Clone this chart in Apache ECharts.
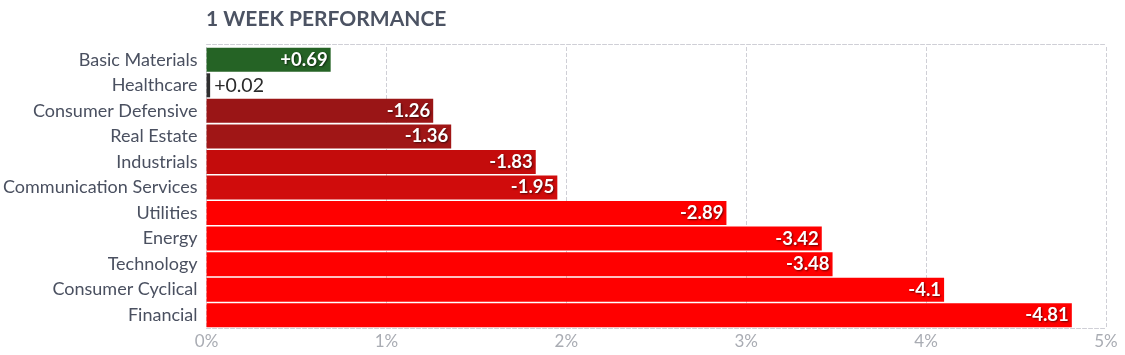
<!DOCTYPE html>
<html>
<head>
<meta charset="utf-8">
<script src="https://cdn.jsdelivr.net/npm/echarts@6/dist/echarts.min.js"></script>
<style>
html,body{margin:0;padding:0;background:#fff;}
#c{width:1125px;height:355px;}
</style>
</head>
<body>
<div id="c"></div>
<script>
const title = '1 WEEK PERFORMANCE';
const categories = ['Basic Materials','Healthcare','Consumer Defensive','Real Estate','Industrials','Communication Services','Utilities','Energy','Technology','Consumer Cyclical','Financial'];
const values = [0.69, 0.02, -1.26, -1.36, -1.83, -1.95, -2.89, -3.42, -3.48, -4.1, -4.81];
const barColors = ['#256325','#2e2e2e','#9a1516','#a01616','#c40c0c','#d00c0c','#ff0000','#ff0000','#ff0000','#ff0000','#ff0000'];
const xTicks = [0,1,2,3,4,5];

const font = 'Lato, "Open Sans", sans-serif';
const chart = echarts.init(document.getElementById('c'), null, {renderer:'canvas'});
const seriesData = values.map((v,i) => {
  const small = Math.abs(v) < 0.2;
  return {
    value: Math.abs(v),
    itemStyle: {color: barColors[i]},
    label: small ? {
      position: 'right', distance: 4, color: '#2b2b2b', fontWeight: 'normal', fontSize: 19.5,
      textShadowBlur: 0, textShadowOffsetX: 0, textShadowOffsetY: 0, textShadowColor: 'transparent'
    } : {}
  };
});
chart.setOption({
  animation: false,
  title: {
    text: title, left: 201, top: 4,
    textStyle: {fontFamily: font, fontSize: 21, fontWeight: 'bold', color: '#4c5363'}
  },
  grid: {left: 206, right: 19, top: 47, bottom: 27, containLabel: false},
  xAxis: [{
    type: 'value', min: 0, max: xTicks[xTicks.length-1], interval: 1,
    axisLine: {show: true, lineStyle: {color: '#cfcfd6', type: 'dashed'}},
    axisTick: {show: false},
    splitLine: {show: true, lineStyle: {color: '#cfcfd6', type: 'dashed'}},
    axisLabel: {formatter: '{value}%', color: '#a9acb3', fontFamily: font, fontSize: 17, margin: 5}
  },{
    type: 'value', position: 'top', offset: 3, min: 0, max: 5, interval: 1,
    axisLine: {show: true, lineStyle: {color: '#cfcfd6', type: 'dashed'}},
    axisTick: {show: false}, axisLabel: {show: false}, splitLine: {show: false}
  }],
  yAxis: {
    type: 'category', data: categories, inverse: true,
    axisLine: {show: false}, axisTick: {show: false},
    axisLabel: {color: '#4a5060', fontFamily: font, fontSize: 18, margin: 9}
  },
  series: [{
    type: 'bar', data: seriesData, barCategoryGap: '6%', barMinHeight: 3,
    label: {
      show: true, position: 'insideRight', distance: 3,
      formatter: p => (values[p.dataIndex] > 0 ? '+' : '') + values[p.dataIndex],
      color: '#fff', fontFamily: font, fontSize: 18.5, fontWeight: 'bold',
      textShadowColor: 'rgba(0,0,0,0.6)', textShadowBlur: 2, textShadowOffsetX: 1, textShadowOffsetY: 1
    }
  }]
});
</script>
</body>
</html>
